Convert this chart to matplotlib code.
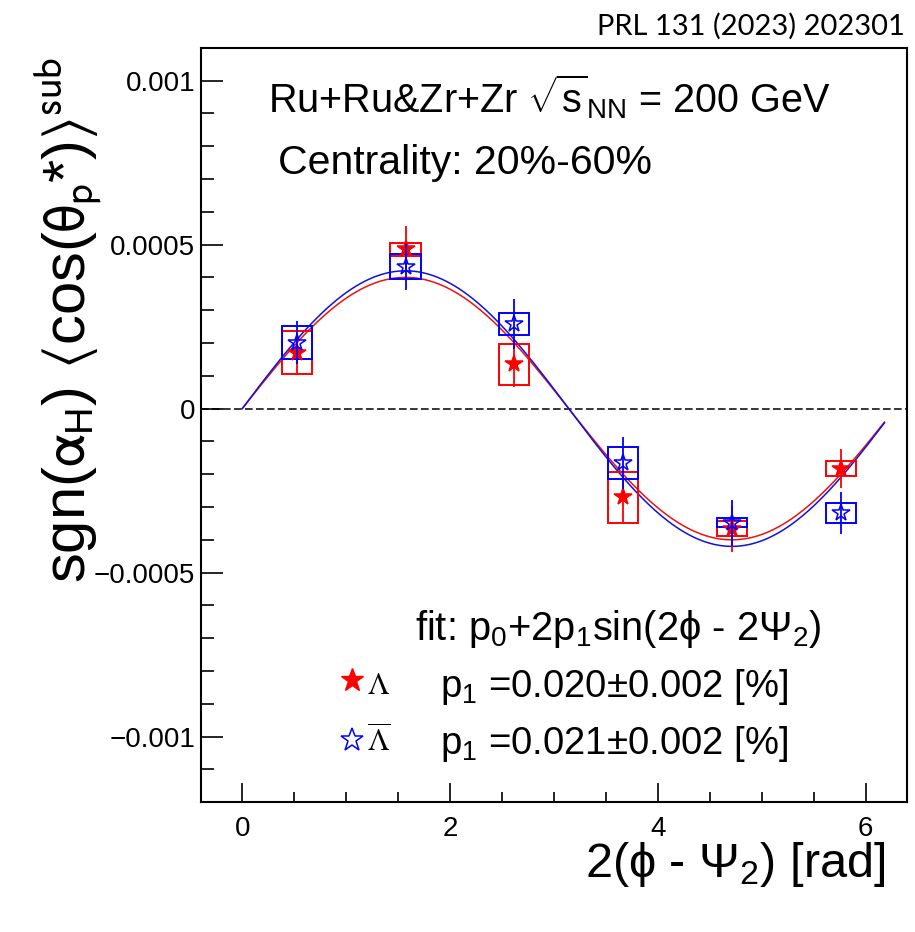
import numpy as np
import matplotlib
matplotlib.use("Agg")
from matplotlib import pyplot as plt
from matplotlib.patches import Rectangle
from matplotlib.ticker import MultipleLocator

# bin centres in 2(phi - Psi_2)
phi_bins = [0.524, 1.571, 2.618, 3.665, 4.712, 5.760]

# Lambda
lam_val = [0.000170, 0.000486, 0.000135, -0.000270, -0.000366, -0.000183]
lam_stat = [0.000060, 0.000072, 0.000070, 0.000075, 0.000070, 0.000060]
lam_sys = [0.000066, 0.000020, 0.000062, 0.000078, 0.000023, 0.000022]

# anti-Lambda
alam_val = [0.000201, 0.000433, 0.000258, -0.000166, -0.000348, -0.000318]
alam_stat = [0.000065, 0.000070, 0.000076, 0.000080, 0.000070, 0.000063]
alam_sys = [0.000050, 0.000038, 0.000033, 0.000050, 0.000014, 0.000030]

# fit results, p1 in percent
p1_lam = 0.020
p1_alam = 0.021
p1_err = 0.002

ytick_vals = [-0.001, -0.0005, 0, 0.0005, 0.001]
ytick_labels = ['\u22120.001', '\u22120.0005', '0', '0.0005', '0.001']
xtick_vals = [0, 2, 4, 6]

sans = 'Liberation Sans'
plt.rcParams['font.family'] = [sans, 'DejaVu Sans']
plt.rcParams['mathtext.fontset'] = 'custom'
plt.rcParams['mathtext.rm'] = sans
plt.rcParams['mathtext.it'] = sans
plt.rcParams['mathtext.bf'] = sans

W, H = 915, 932
fig = plt.figure(figsize=(W / 100, H / 100), dpi=100)
ax = fig.add_axes([200.7 / W, 1 - 802.3 / H, (907.3 - 200.7) / W, (802.3 - 47.7) / H])

ax.set_xlim(-0.4, 6.4)
ax.set_ylim(-0.0012, 0.0011)

ax.axhline(0, color='k', lw=1.1, ls=(0, (5, 2.2)), zorder=1)

# fit curves
xf = np.linspace(0, 6.18, 300)
ax.plot(xf, 2 * p1_lam / 100 * np.sin(xf), color='#ee1111', lw=1.1, zorder=2)
ax.plot(xf, 2 * p1_alam / 100 * np.sin(xf), color='#1111dd', lw=1.1, zorder=2)

bw = 0.145
for vals, stat, sys, col, face in [(lam_val, lam_stat, lam_sys, 'red', 'red'),
                                    (alam_val, alam_stat, alam_sys, 'blue', 'none')]:
    for x, y, s in zip(phi_bins, vals, sys):
        ax.add_patch(Rectangle((x - bw, y - s), 2 * bw, 2 * s, fill=False,
                               edgecolor=col, lw=1.4, zorder=3))
    ax.plot(phi_bins, vals, ls='none', marker='*', ms=13, mfc=face, mec=col,
            mew=1.1, zorder=4)
    ax.errorbar(phi_bins, vals, yerr=stat, fmt='none', ecolor=col, elinewidth=1.3,
                capsize=0, zorder=5)

ax.set_xticks(xtick_vals)
ax.xaxis.set_minor_locator(MultipleLocator(0.5))
ax.set_yticks(ytick_vals)
ax.set_yticklabels(ytick_labels)
ax.yaxis.set_minor_locator(MultipleLocator(0.0001))
ax.tick_params(which='both', direction='in', top=False, right=False, width=1.2)
ax.tick_params(axis='x', which='major', length=14, pad=10, labelsize=20)
ax.tick_params(axis='x', which='minor', length=7)
ax.tick_params(axis='y', which='major', length=16, pad=4, labelsize=20)
ax.tick_params(axis='y', which='minor', length=9)
for sp in ax.spines.values():
    sp.set_linewidth(1.5)


def fx(px):
    return px / W


def fy(py):
    return 1 - py / H


fig.text(fx(905), fy(26), 'PRL 131 (2023) 202301', ha='right', va='center',
         fontsize=21, family='Lato')

fig.text(fx(268), fy(112), r'Ru+Ru&Zr+Zr $\sqrt{\rm s}_{\rm NN}$ = 200 GeV',
         ha='left', va='baseline', fontsize=28.5)
fig.text(fx(278), fy(174), 'Centrality: 20%-60%', ha='left', va='baseline',
         fontsize=29.5)

fig.text(fx(415), fy(640), r'fit: p$_{\rm 0}$+2p$_{\rm 1}$sin(2$\phi$ - 2$\Psi_{\rm 2}$)',
         ha='left', va='baseline', fontsize=28.7)
fig.text(fx(440), fy(697), r'p$_{\rm 1}$ =%.3f$\pm$%.3f [%%]' % (p1_lam, p1_err),
         ha='left', va='baseline', fontsize=27.5)
fig.text(fx(440), fy(754), r'p$_{\rm 1}$ =%.3f$\pm$%.3f [%%]' % (p1_alam, p1_err),
         ha='left', va='baseline', fontsize=27.5)

ax.plot([fx(352)], [fy(680)], transform=fig.transFigure, clip_on=False,
        marker='*', ms=17, mfc='red', mec='red', ls='none')
ax.plot([fx(352)], [fy(740)], transform=fig.transFigure, clip_on=False,
        marker='*', ms=17, mfc='none', mec='blue', mew=1.1, ls='none')
fig.text(fx(367), fy(694), r'$\Lambda$', ha='left', va='baseline', fontsize=22,
         math_fontfamily='stix')
fig.text(fx(367), fy(752), r'$\overline{\Lambda}$', ha='left', va='baseline',
         fontsize=22, math_fontfamily='stix')

fig.text(fx(885), fy(877), r'2($\phi$ - $\Psi_{\rm 2}$) [rad]', ha='right',
         va='baseline', fontsize=35)
fig.text(fx(68), fy(320),
         r'sgn($\mathrm{\alpha}_{\rm H}$) $\langle$cos($\mathrm{\theta}_{\rm p}$*)$\rangle^{\rm sub}$',
         ha='center', va='center', rotation=90, fontsize=43, math_fontfamily='stixsans')

fig.savefig('out.png', dpi=100)
